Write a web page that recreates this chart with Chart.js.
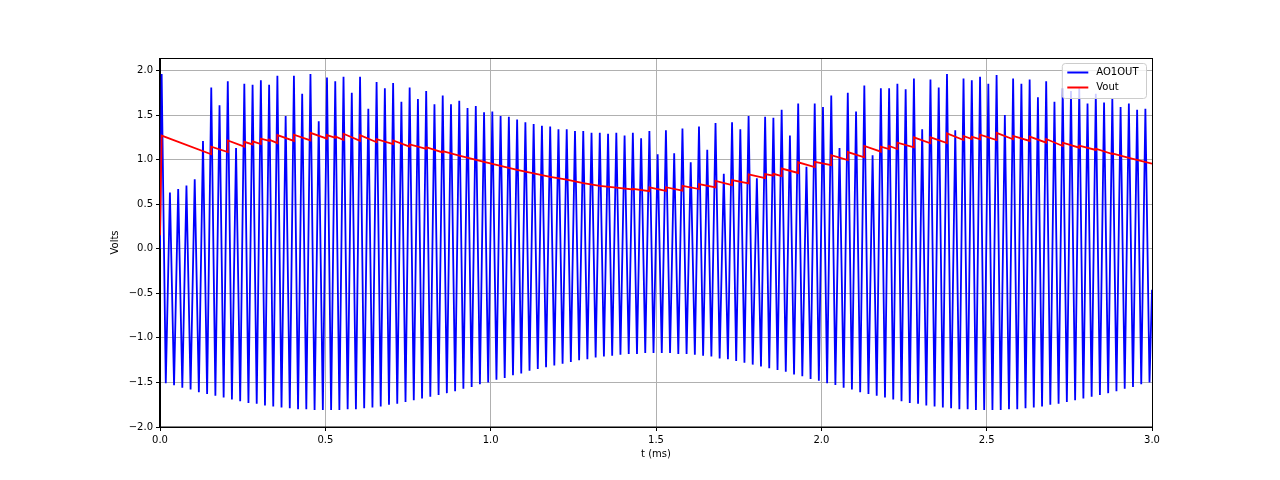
<!DOCTYPE html>
<html>
<head>
<meta charset="utf-8">
<script src="https://cdn.jsdelivr.net/npm/chart.js@4.4.1/dist/chart.umd.min.js"></script>
<style>
  html, body { margin: 0; padding: 0; background: #fff; }
  canvas { display: block; }
</style>
</head>
<body>
<canvas id="scope" width="1280" height="480"></canvas>
<script>
// Sample grid of the AO1OUT waveform (ms): one peak and one trough per cycle
const cycleStart = 0.005;
const cyclePeriod = 0.025;
const aoStart = 0.0;
const aoEnd = -0.46;

// AO1OUT peak value of each cycle (V)
const aoPeaks = [
  1.96, 0.63, 0.67, 0.71, 0.78, 1.21, 1.81, 1.61, 1.88, 1.13, 1.85, 1.84, 1.89, 1.84, 1.94, 1.49, 1.94, 1.74, 1.96, 1.43,
  1.92, 1.88, 1.93, 1.75, 1.93, 1.57, 1.87, 1.80, 1.86, 1.65, 1.81, 1.68, 1.77, 1.62, 1.72, 1.62, 1.66, 1.58, 1.60, 1.53,
  1.54, 1.49, 1.48, 1.45, 1.42, 1.40, 1.38, 1.37, 1.34, 1.34, 1.32, 1.32, 1.30, 1.30, 1.29, 1.30, 1.27, 1.30, 1.24, 1.32,
  1.06, 1.33, 1.07, 1.35, 0.97, 1.37, 1.11, 1.41, 0.84, 1.42, 1.34, 1.49, 0.79, 1.48, 1.47, 1.56, 1.27, 1.63, 0.92, 1.63,
  1.59, 1.72, 1.13, 1.75, 1.54, 1.83, 1.05, 1.80, 1.80, 1.85, 1.79, 1.91, 1.34, 1.90, 1.81, 1.96, 1.33, 1.91, 1.89, 1.93,
  1.85, 1.95, 1.50, 1.91, 1.85, 1.90, 1.70, 1.88, 1.65, 1.80, 1.77, 1.80, 1.63, 1.74, 1.64, 1.69, 1.59, 1.63, 1.56, 1.57
];

// AO1OUT trough value of each cycle (V)
const aoTroughs = [
  -1.51, -1.53, -1.56, -1.58, -1.61, -1.63, -1.65, -1.67, -1.69, -1.71, -1.73, -1.74, -1.76, -1.77, -1.78, -1.79, -1.80, -1.80, -1.81, -1.81,
  -1.81, -1.81, -1.80, -1.80, -1.79, -1.78, -1.77, -1.75, -1.74, -1.72, -1.70, -1.68, -1.66, -1.64, -1.62, -1.60, -1.57, -1.55, -1.52, -1.50,
  -1.47, -1.45, -1.42, -1.40, -1.37, -1.35, -1.33, -1.31, -1.29, -1.27, -1.25, -1.24, -1.22, -1.21, -1.20, -1.19, -1.18, -1.18, -1.17, -1.17,
  -1.17, -1.17, -1.18, -1.18, -1.19, -1.20, -1.21, -1.23, -1.24, -1.26, -1.28, -1.30, -1.32, -1.34, -1.36, -1.38, -1.41, -1.43, -1.46, -1.48,
  -1.51, -1.53, -1.56, -1.58, -1.61, -1.63, -1.65, -1.67, -1.69, -1.71, -1.73, -1.74, -1.76, -1.77, -1.78, -1.79, -1.80, -1.80, -1.81, -1.81,
  -1.81, -1.81, -1.80, -1.80, -1.79, -1.78, -1.77, -1.75, -1.74, -1.72, -1.70, -1.68, -1.66, -1.64, -1.62, -1.60, -1.57, -1.55, -1.52, -1.50
];

// Vout corner points (ms, V): slow droop with upward steps
const voutTimes = [
  0, 0.005,
  0.155, 0.155, 0.205, 0.205, 0.255, 0.255, 0.28, 0.28, 0.305, 0.305, 0.33, 0.33, 0.355, 0.355,
  0.405, 0.405, 0.455, 0.455, 0.505, 0.505, 0.53, 0.53, 0.555, 0.555, 0.605, 0.605, 0.655, 0.655,
  0.705, 0.705, 0.755, 0.755, 0.805, 0.805, 0.855, 0.855,
  0.905, 0.98, 1.03, 1.08, 1.13, 1.18, 1.23, 1.28, 1.33, 1.38,
  1.43, 1.43, 1.48, 1.48, 1.53, 1.53, 1.58, 1.58, 1.63, 1.63, 1.68, 1.68, 1.73, 1.73, 1.78, 1.78,
  1.83, 1.83, 1.855, 1.855, 1.88, 1.88, 1.93, 1.93, 1.98, 1.98, 2.03, 2.03, 2.08, 2.08, 2.13, 2.13,
  2.18, 2.18, 2.205, 2.205, 2.23, 2.23, 2.28, 2.28, 2.33, 2.33, 2.38, 2.38, 2.43, 2.43, 2.455, 2.455,
  2.48, 2.48, 2.53, 2.53, 2.58, 2.58, 2.63, 2.63, 2.68, 2.68, 2.73, 2.73, 2.78, 2.78, 2.83, 2.83,
  2.88, 2.88, 2.93, 3.0
];
const voutValues = [
  0.15, 1.27,
  1.06, 1.145, 1.085, 1.215, 1.145, 1.20, 1.17, 1.205, 1.175, 1.235, 1.21, 1.225, 1.185, 1.275,
  1.21, 1.28, 1.215, 1.30, 1.235, 1.275, 1.245, 1.26, 1.22, 1.29, 1.21, 1.275, 1.195, 1.23,
  1.175, 1.215, 1.145, 1.17, 1.12, 1.14, 1.08, 1.095,
  1.045, 0.975, 0.93, 0.885, 0.845, 0.805, 0.775, 0.735, 0.705, 0.685,
  0.665, 0.672, 0.645, 0.688, 0.65, 0.69, 0.652, 0.705, 0.67, 0.725, 0.688, 0.762, 0.714, 0.77, 0.733, 0.834,
  0.793, 0.838, 0.819, 0.841, 0.815, 0.90, 0.85, 0.97, 0.916, 0.976, 0.939, 1.05, 0.995, 1.085, 1.025, 1.153,
  1.089, 1.145, 1.119, 1.153, 1.119, 1.19, 1.138, 1.25, 1.183, 1.25, 1.186, 1.295, 1.22, 1.265, 1.231, 1.258,
  1.228, 1.28, 1.22, 1.30, 1.228, 1.265, 1.209, 1.258, 1.19, 1.231, 1.153, 1.19, 1.134, 1.156, 1.108, 1.123,
  1.063, 1.07, 1.02, 0.955
];

const xTicks = [0, 0.5, 1.0, 1.5, 2.0, 2.5, 3.0];
const yTicks = [-2.0, -1.5, -1.0, -0.5, 0.0, 0.5, 1.0, 1.5, 2.0];

// Build the point lists
const aoPoints = [{ x: 0, y: aoStart }];
aoPeaks.forEach((peak, i) => {
  const t = cycleStart + i * cyclePeriod;
  aoPoints.push({ x: t, y: peak });
  aoPoints.push({ x: t + cyclePeriod / 2, y: aoTroughs[i] });
});
aoPoints.push({ x: 3.0, y: aoEnd });

const voutPoints = voutTimes.map((t, i) => ({ x: t, y: voutValues[i] }));

const font = { family: '"DejaVu Sans", sans-serif', size: 10 };

// Format a tick like matplotlib (unicode minus, one decimal)
function fmt(v) {
  const s = Math.abs(v).toFixed(1);
  return v < -1e-9 ? '\u2212' + s : s;
}

// Frame on all four sides and a boxed legend in the upper right
const framePlugin = {
  id: 'frameAndLegend',
  afterDatasetsDraw(chart) {
    const { ctx, chartArea } = chart;
    ctx.save();
    ctx.strokeStyle = '#000';
    ctx.lineWidth = 1;
    ctx.strokeRect(Math.round(chartArea.left) - 0.5, Math.round(chartArea.top) + 0.5,
      Math.round(chartArea.width) + 1, Math.round(chartArea.height) - 0.5);

    const items = chart.data.datasets.map(d => ({ text: d.label, color: d.borderColor }));
    ctx.font = '10px "DejaVu Sans", sans-serif';
    const textW = Math.max(...items.map(it => ctx.measureText(it.text).width));
    const padL = 5, handle = 21, gap = 8, padR = 8, rowH = 15;
    const boxW = padL + handle + gap + textW + padR;
    const boxH = items.length * rowH + 5;
    const right = chartArea.right - 5.5;
    const top = chartArea.top + 5.5;
    const left = right - boxW;

    ctx.beginPath();
    ctx.roundRect(left, top, boxW, boxH, 3);
    ctx.fillStyle = 'rgba(255,255,255,0.8)';
    ctx.fill();
    ctx.strokeStyle = '#cccccc';
    ctx.stroke();

    items.forEach((it, i) => {
      const y = top + 9 + i * rowH;
      ctx.beginPath();
      ctx.moveTo(left + padL, y);
      ctx.lineTo(left + padL + handle, y);
      ctx.strokeStyle = it.color;
      ctx.lineWidth = 2;
      ctx.stroke();
      ctx.fillStyle = '#000';
      ctx.textBaseline = 'middle';
      ctx.textAlign = 'left';
      ctx.fillText(it.text, left + padL + handle + gap, y);
    });
    ctx.restore();
  }
};

const ctx = document.getElementById('scope').getContext('2d');
const scopeChart = new Chart(ctx, {
  type: 'line',
  data: {
    datasets: [
      { label: 'AO1OUT', data: aoPoints, borderColor: '#0000ff', borderWidth: 1.8,
        pointRadius: 0, tension: 0, fill: false, order: 2 },
      { label: 'Vout', data: voutPoints, borderColor: '#ff0000', borderWidth: 1.8,
        pointRadius: 0, tension: 0, fill: false, order: 1 }
    ]
  },
  options: {
    responsive: false,
    animation: false,
    devicePixelRatio: 1,
    parsing: false,
    layout: { padding: { top: 58, right: 128, bottom: 0, left: 0 } },
    plugins: { legend: { display: false }, tooltip: { enabled: false } },
    scales: {
      x: {
        type: 'linear', min: 0, max: 3,
        afterBuildTicks: s => { s.ticks = xTicks.map(v => ({ value: v })); },
        afterFit: s => { s.height = 53; },
        grid: { color: '#b0b0b0', lineWidth: 1, tickColor: '#000', tickLength: 4 },
        border: { color: '#000', width: 1 },
        ticks: { color: '#000', font, padding: 3, autoSkip: false, maxRotation: 0, callback: v => fmt(v) },
        title: { display: true, text: 't (ms)', color: '#000', font, padding: { top: 0, bottom: 20 } }
      },
      y: {
        type: 'linear', min: -2.0, max: 2.14,
        afterBuildTicks: s => { s.ticks = yTicks.map(v => ({ value: v })); },
        afterFit: s => { s.width = 160; },
        grid: { color: '#b0b0b0', lineWidth: 1, tickColor: '#000', tickLength: 4 },
        border: { color: '#000', width: 1 },
        ticks: { color: '#000', font, padding: 3, autoSkip: false, callback: v => fmt(v) },
        title: { display: true, text: 'Volts', color: '#000', font, padding: { top: 109, bottom: 0 } }
      }
    }
  },
  plugins: [framePlugin]
});
</script>
</body>
</html>
